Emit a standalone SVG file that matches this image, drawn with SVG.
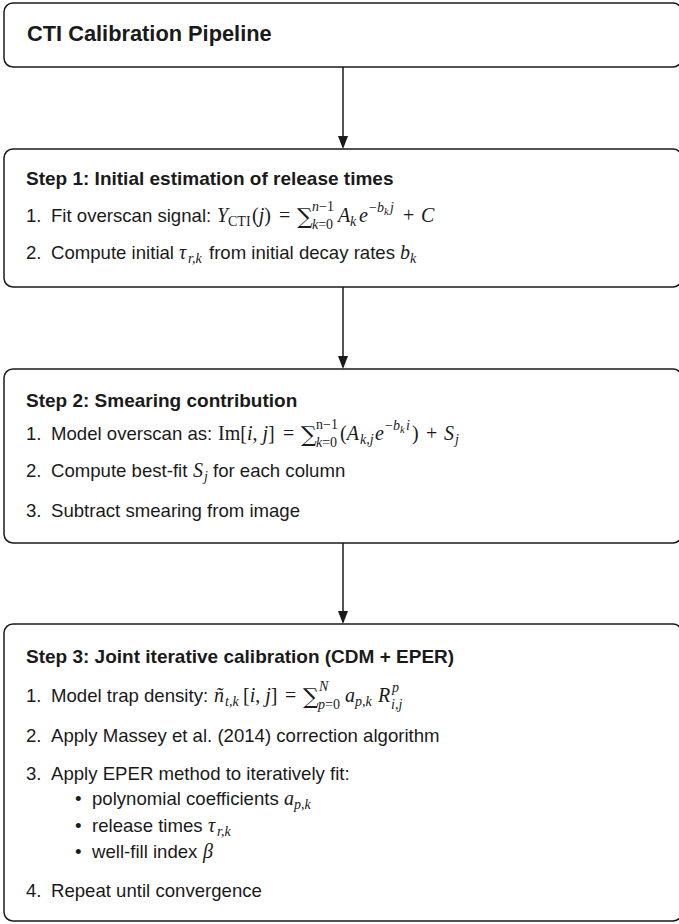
<svg xmlns="http://www.w3.org/2000/svg" width="679" height="924" viewBox="0 0 679 924">
<style>
.box{fill:#fff;stroke:#1a1a1a;stroke-width:1.5}
.t{font-family:"Liberation Sans",Arial,sans-serif;font-size:18.6px;fill:#1a1a1a}
.h{font-family:"Liberation Sans",Arial,sans-serif;font-size:21.8px;font-weight:bold;fill:#1a1a1a}
.b{font-family:"Liberation Sans",Arial,sans-serif;font-size:19px;font-weight:bold;fill:#1a1a1a}
.m{font-family:"Liberation Serif","Times New Roman",serif;font-size:20px;font-style:italic;fill:#1a1a1a}
.r{font-family:"Liberation Serif","Times New Roman",serif;font-size:20px;font-style:normal;fill:#1a1a1a}
.s{font-family:"Liberation Serif","Times New Roman",serif;font-size:14px;font-style:italic;fill:#1a1a1a}
.su{font-family:"Liberation Serif","Times New Roman",serif;font-size:14px;font-style:normal;fill:#1a1a1a}
.ss{font-family:"Liberation Serif","Times New Roman",serif;font-size:10.5px;font-style:italic;fill:#1a1a1a}
.sum{font-family:"DejaVu Serif","Liberation Serif",serif;font-size:22px;fill:#1a1a1a}
.conn{stroke:#1a1a1a;stroke-width:1.5;fill:none}
</style>
<defs>
<marker id="ah" viewBox="0 0 13 10" refX="11" refY="5" markerWidth="13" markerHeight="10" markerUnits="userSpaceOnUse" orient="auto">
<path d="M0,0 L13,5 L0,10 z" fill="#1a1a1a"/>
</marker>
</defs>
<g id="connectors">
<line class="conn" x1="343" y1="67" x2="343" y2="147" marker-end="url(#ah)"/>
<line class="conn" x1="343" y1="287" x2="343" y2="367" marker-end="url(#ah)"/>
<line class="conn" x1="343" y1="543" x2="343" y2="622" marker-end="url(#ah)"/>
</g>
<g id="title">
<rect class="box" x="4" y="3" width="678" height="64" rx="9"/>
<text class="h" x="27" y="41">CTI Calibration Pipeline</text>
</g>
<g id="step1">
<rect class="box" x="4" y="149" width="678" height="138" rx="9"/>
<text class="b" x="26" y="185">Step 1: Initial estimation of release times</text>
<text class="t" x="26" y="222">1.</text>
<text class="t" x="51" y="222">Fit overscan signal:</text>
<text class="m" x="217" y="222">Y</text>
<text class="su" x="228" y="226">CTI</text>
<text class="r" x="252" y="222">(<tspan class="m">j</tspan>)</text>
<text class="r" x="279" y="222">=</text>
<text class="sum" x="297" y="224">∑</text>
<text class="s" x="312" y="211">n<tspan class="su">−1</tspan></text>
<text class="s" x="312" y="229">k<tspan class="su">=0</tspan></text>
<text class="m" x="338" y="222">A</text>
<text class="s" x="350" y="226">k</text>
<text class="m" x="359" y="222">e</text>
<text class="su" x="369" y="212">−<tspan class="s">b</tspan></text>
<text class="ss" x="384" y="215">k</text>
<text class="s" x="390" y="212">j</text>
<text class="r" x="403" y="222">+</text>
<text class="m" x="421" y="222">C</text>
<text class="t" x="26" y="259">2.</text>
<text class="t" x="51" y="259">Compute initial</text>
<text class="m" x="179" y="259">τ</text>
<text class="s" x="188" y="263">r,k</text>
<text class="t" x="209" y="259">from initial decay rates</text>
<text class="m" x="400" y="259">b</text>
<text class="s" x="410" y="263">k</text>
</g>
<g id="step2">
<rect class="box" x="4" y="369" width="678" height="174" rx="9"/>
<text class="b" x="26" y="407">Step 2: Smearing contribution</text>
<text class="t" x="26" y="440">1.</text>
<text class="t" x="51" y="440">Model overscan as:</text>
<text class="r" x="218" y="440">Im[<tspan class="m">i</tspan>, <tspan class="m">j</tspan>]</text>
<text class="r" x="283" y="440">=</text>
<text class="sum" x="301" y="442">∑</text>
<text class="su" x="316" y="429">n−1</text>
<text class="s" x="316" y="447">k<tspan class="su">=0</tspan></text>
<text class="r" x="340" y="440">(<tspan class="m">A</tspan></text>
<text class="s" x="360" y="444">k,j</text>
<text class="m" x="375" y="440">e</text>
<text class="su" x="385" y="430">−<tspan class="s">b</tspan></text>
<text class="ss" x="400" y="433">k</text>
<text class="s" x="406" y="430">i</text>
<text class="r" x="412" y="440">)</text>
<text class="r" x="426" y="440">+</text>
<text class="m" x="444" y="440">S</text>
<text class="s" x="455" y="444">j</text>
<text class="t" x="26" y="477">2.</text>
<text class="t" x="51" y="477">Compute best-fit</text>
<text class="m" x="193" y="477">S</text>
<text class="s" x="204" y="481">j</text>
<text class="t" x="213" y="477">for each column</text>
<text class="t" x="26" y="517">3.</text>
<text class="t" x="51" y="517">Subtract smearing from image</text>
</g>
<g id="step3">
<rect class="box" x="4" y="624" width="678" height="297" rx="9"/>
<text class="b" x="26" y="663">Step 3: Joint iterative calibration (CDM + EPER)</text>
<text class="t" x="26" y="702">1.</text>
<text class="t" x="51" y="702">Model trap density:</text>
<text class="m" x="214" y="702">ñ</text>
<text class="s" x="225" y="706">t,k</text>
<text class="r" x="243" y="702">[<tspan class="m">i</tspan>, <tspan class="m">j</tspan>]</text>
<text class="r" x="285" y="702">=</text>
<text class="sum" x="303" y="704">∑</text>
<text class="s" x="319" y="691">N</text>
<text class="s" x="318" y="709">p<tspan class="su">=0</tspan></text>
<text class="m" x="345" y="702">a</text>
<text class="s" x="355" y="706">p,k</text>
<text class="m" x="378" y="702">R</text>
<text class="s" x="392" y="692">p</text>
<text class="s" x="391" y="709">i,j</text>
<text class="t" x="26" y="742">2.</text>
<text class="t" x="51" y="742">Apply Massey et al. (2014) correction algorithm</text>
<text class="t" x="26" y="780">3.</text>
<text class="t" x="51" y="780">Apply EPER method to iteratively fit:</text>
<text class="t" x="75" y="805">•</text>
<text class="t" x="92" y="805">polynomial coefficients</text>
<text class="m" x="284" y="805">a</text>
<text class="s" x="294" y="809">p,k</text>
<text class="t" x="75" y="832">•</text>
<text class="t" x="92" y="832">release times</text>
<text class="m" x="208" y="832">τ</text>
<text class="s" x="217" y="836">r,k</text>
<text class="t" x="75" y="858">•</text>
<text class="t" x="92" y="858">well-fill index</text>
<text class="m" x="203" y="858">β</text>
<text class="t" x="26" y="897">4.</text>
<text class="t" x="51" y="897">Repeat until convergence</text>
</g>
</svg>
